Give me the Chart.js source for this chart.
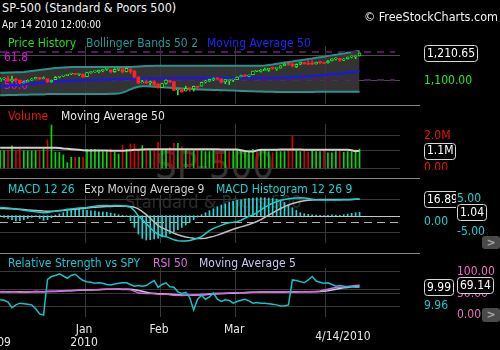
<!DOCTYPE html>
<html>
<head>
<meta charset="utf-8">
<title>SP-500 (Standard & Poors 500)</title>
<script src="https://cdn.jsdelivr.net/npm/chart.js"></script>
<style>
    body {
        margin: 0;
        width: 500px;
        height: 350px;
        background: #000;
        position: relative;
        overflow: hidden;
        font-family: "DejaVu Sans Condensed", "DejaVu Sans", sans-serif;
    }
    .t { position: absolute; white-space: nowrap; line-height: 1; }
    .lg { font-size: 12px; }
    canvas { position: absolute; left: 0; }
    .sep { position: absolute; left: 0; width: 420px; height: 1px; background: #858585; }
    .mark { position: absolute; left: 0; width: 500px; overflow: hidden; }
    .btn {
        position: absolute; left: 482px; width: 18px; border-radius: 3px;
        background: #4a4a4a; color: #a8a8a8; font: bold 11px "DejaVu Sans", sans-serif;
        text-align: center;
    }
</style>
</head>
<body>
    <!-- watermark -->
    <div class="mark" style="top:106px;height:72px">
        <div class="t" style="left:155px;top:40px;font-size:38px;color:#333">SP-500</div>
    </div>
    <div class="t" style="left:125px;top:193px;font-size:18px;color:#2c2c2c">Standard &amp; Poors 500</div>

    <canvas id="priceChart" width="500" height="68" style="top:36px"></canvas>
    <canvas id="volumeChart" width="500" height="56" style="top:114px"></canvas>
    <canvas id="macdChart" width="500" height="58" style="top:185px"></canvas>
    <canvas id="rsiChart" width="500" height="92" style="top:258px"></canvas>

    <div class="sep" style="top:105px"></div>
    <div class="sep" style="top:178px"></div>
    <div class="sep" style="top:253px"></div>

    <!-- header -->
    <div class="t" style="left:2px;top:2px;font-size:12.5px;color:#f2f2f2">SP-500 (Standard &amp; Poors 500)</div>
    <div class="t" style="left:2px;top:20px;font-size:10px;color:#f2f2f2">Apr 14 2010 12:00:00</div>
    <div class="t" style="right:2px;top:11px;font-size:12.5px;color:#f2f2f2">© FreeStockCharts.com</div>

    <!-- legends -->
    <div class="t lg" style="left:8px;top:37px;color:#22dd22">Price History</div>
    <div class="t lg" style="left:86px;top:37px;color:#1f9a9a">Bollinger Bands 50 2</div>
    <div class="t lg" style="left:207px;top:37px;color:#2222ff">Moving Average 50</div>

    <div class="t lg" style="left:8px;top:110px;color:#ee1111">Volume</div>
    <div class="t lg" style="left:61px;top:110px;color:#e8e8e8">Moving Average 50</div>

    <div class="t lg" style="left:8px;top:183px;color:#19d3d3">MACD 12 26</div>
    <div class="t lg" style="left:84px;top:183px;color:#d0d0d0">Exp Moving Average 9</div>
    <div class="t lg" style="left:216px;top:183px;color:#19d3d3">MACD Histogram 12 26 9</div>

    <div class="t lg" style="left:8px;top:257px;color:#19c8d0">Relative Strength vs SPY</div>
    <div class="t lg" style="left:153px;top:257px;color:#e070e0">RSI 50</div>
    <div class="t lg" style="left:199px;top:257px;color:#c8c8f0">Moving Average 5</div>

    <div class="btn" style="top:236px;height:13px;line-height:13px">&gt;</div>
    <div class="btn" style="top:308px;height:14px;line-height:14px">&gt;</div>

<script>
// daily bars, 1 Dec 2009 .. 14 Apr 2010
const opens = [
    1098.9, 1108.5, 1109.0, 1100.0, 1105.5, 1103.0, 1092.0, 1096.0, 1103.0, 1107.8, 1114.0, 1108.6, 1108.0, 1097.0, 1105.3, 1114.5, 1118.8, 1121.1, 1127.5, 1128.6, 1125.5, 1126.6,
    1116.6, 1132.7, 1135.7, 1136.3, 1140.5, 1146.0, 1143.8, 1137.1, 1145.7, 1147.7, 1136.0, 1147.3, 1138.7, 1115.5, 1092.4, 1095.8, 1091.9, 1096.9, 1087.6,
    1073.9, 1090.1, 1100.7, 1097.3, 1064.1, 1065.5, 1060.1, 1069.7, 1068.1, 1075.9, 1079.3, 1096.1, 1099.0, 1105.5, 1110.0, 1107.5, 1095.9, 1101.2, 1103.1,
    1105.4, 1117.0, 1119.4, 1119.1, 1125.1, 1138.4, 1137.6, 1140.2, 1143.0, 1151.7, 1148.5, 1150.8, 1160.1, 1166.1, 1166.7, 1155.4, 1166.5, 1172.5, 1170.0, 1167.6, 1167.7, 1173.8, 1171.8,
    1171.3, 1178.7, 1186.0, 1188.2, 1181.8, 1187.3, 1194.9, 1195.9, 1198.7
];
const highs = [
    1112.3, 1112.3, 1119.1, 1119.1, 1110.7, 1103.3, 1098.5, 1104.3, 1110.4, 1115.2, 1114.4, 1116.2, 1108.0, 1103.7, 1117.7, 1118.5, 1122.1, 1126.5, 1130.4, 1130.4, 1127.5, 1127.6,
    1133.9, 1136.6, 1139.2, 1142.5, 1145.4, 1149.7, 1143.8, 1148.4, 1148.5, 1147.8, 1150.5, 1147.4, 1141.6, 1115.5, 1102.7, 1103.7, 1099.6, 1100.2, 1089.4,
    1089.4, 1104.7, 1102.7, 1097.3, 1067.1, 1071.2, 1079.3, 1073.3, 1080.0, 1077.8, 1095.0, 1101.9, 1107.4, 1112.4, 1112.4, 1108.6, 1106.4, 1103.5, 1107.2,
    1116.1, 1123.5, 1125.6, 1123.7, 1139.4, 1141.1, 1145.4, 1150.7, 1150.2, 1153.4, 1150.8, 1160.3, 1169.2, 1167.1, 1169.2, 1167.8, 1174.7, 1173.0, 1180.7, 1180.8, 1174.9, 1174.9, 1174.1,
    1181.4, 1187.7, 1191.8, 1189.6, 1188.9, 1194.7, 1199.2, 1199.9, 1210.7
];
const lows = [
    1098.9, 1103.6, 1099.1, 1096.4, 1100.8, 1088.6, 1091.3, 1096.0, 1101.4, 1107.8, 1105.3, 1107.8, 1093.5, 1093.9, 1105.3, 1111.8, 1116.8, 1121.1, 1124.9, 1126.0, 1121.2, 1114.8,
    1116.6, 1129.7, 1133.9, 1131.3, 1136.2, 1142.0, 1131.4, 1133.6, 1140.1, 1131.4, 1135.9, 1129.3, 1111.2, 1090.2, 1092.4, 1089.2, 1083.1, 1078.5, 1071.5,
    1073.9, 1087.0, 1093.0, 1062.8, 1044.5, 1056.5, 1060.1, 1059.3, 1060.1, 1070.6, 1079.3, 1091.8, 1097.6, 1100.8, 1105.1, 1092.2, 1089.0, 1086.0, 1097.6,
    1105.4, 1116.0, 1116.6, 1116.1, 1125.1, 1136.8, 1134.9, 1140.2, 1138.2, 1146.0, 1141.8, 1150.8, 1159.9, 1161.4, 1155.3, 1152.9, 1163.8, 1166.0, 1165.1, 1165.2, 1165.8, 1167.4, 1169.0,
    1170.7, 1178.7, 1182.8, 1177.2, 1179.9, 1186.4, 1191.3, 1187.9, 1198.7
];
const closes = [
    1108.86, 1109.24, 1099.92, 1105.98, 1103.25, 1091.94, 1095.95, 1102.35, 1106.41, 1114.11, 1107.93, 1109.18, 1096.08, 1102.47, 1114.05, 1118.02, 1120.59, 1126.48, 1127.78, 1126.20, 1126.42, 1115.10,
    1132.99, 1136.52, 1137.14, 1141.69, 1144.98, 1146.98, 1136.22, 1145.68, 1148.46, 1136.03, 1150.23, 1138.04, 1116.48, 1091.76, 1096.78, 1092.17, 1097.50, 1084.53, 1073.87,
    1089.19, 1103.32, 1097.28, 1063.11, 1066.19, 1056.74, 1070.52, 1068.13, 1078.47, 1075.51, 1094.87, 1099.51, 1106.75, 1109.17, 1108.01, 1094.60, 1105.24, 1102.94, 1104.49,
    1115.71, 1118.31, 1118.79, 1122.97, 1138.70, 1138.50, 1140.45, 1145.61, 1150.24, 1149.99, 1150.51, 1159.46, 1166.21, 1165.83, 1159.90, 1165.81, 1174.17, 1167.72, 1165.73, 1166.59, 1173.22, 1173.27, 1169.43,
    1178.10, 1187.44, 1189.44, 1182.45, 1186.44, 1194.37, 1196.48, 1197.30, 1210.65
];
const bbUpper = [
    1132, 1132, 1133, 1133, 1134, 1134, 1135,
    1137, 1139, 1141, 1143, 1145, 1147, 1149, 1151, 1152, 1153, 1154,
    1155, 1155, 1155, 1155, 1155, 1155, 1155, 1155, 1155, 1155, 1155, 1155, 1155, 1155, 1155, 1155,
    1156, 1157, 1158, 1159, 1159, 1160, 1160, 1160, 1160, 1160, 1160, 1160, 1160, 1160, 1160, 1160, 1160,
    1160, 1160, 1160, 1160, 1160, 1160, 1160, 1160, 1160, 1160, 1160, 1160, 1160, 1160, 1160, 1160,
    1161, 1163, 1165, 1168, 1170, 1173, 1175, 1177, 1180, 1182, 1184, 1187, 1189, 1192, 1194, 1196,
    1199, 1201, 1203, 1206, 1208, 1211, 1213, 1216, 1218
];
const bbLower = [
    1044, 1044, 1045, 1045, 1045, 1046, 1046, 1046, 1047, 1047, 1047, 1047, 1048, 1048, 1048, 1048,
    1048, 1048, 1048, 1048, 1048, 1048, 1048, 1048, 1048, 1048, 1048, 1048, 1049, 1049, 1050,
    1054, 1060, 1067, 1073, 1077, 1079,
    1079, 1078, 1077, 1076, 1075, 1074, 1073, 1072, 1071, 1070, 1069, 1068, 1067, 1066, 1066, 1065,
    1065, 1064, 1064, 1063, 1063, 1062, 1062, 1061,
    1060, 1060, 1059, 1059, 1058, 1058, 1057, 1057, 1057, 1056, 1056, 1056, 1056, 1056, 1056, 1056,
    1056, 1056, 1056, 1057, 1057, 1057, 1057, 1057, 1057, 1057, 1057, 1057, 1057, 1057, 1057
];
const ma50 = [
    1079, 1080, 1081, 1083, 1084, 1085, 1087, 1088, 1089, 1091, 1092, 1093, 1095, 1096, 1097, 1099,
    1100, 1100, 1101, 1102, 1102, 1103, 1103, 1104, 1104, 1105, 1105, 1106, 1106, 1107, 1107, 1108, 1108, 1108, 1109,
    1109, 1109, 1110, 1110, 1110, 1110, 1111, 1111, 1111, 1111, 1111, 1111,
    1112, 1112, 1112, 1112, 1112, 1112, 1112, 1112, 1112, 1112, 1112, 1112,
    1112, 1112, 1112, 1112, 1112, 1112, 1112, 1112, 1112, 1112, 1112, 1112,
    1113, 1113, 1114, 1115, 1116, 1117,
    1118, 1119, 1120, 1121, 1122, 1124, 1125, 1126, 1127, 1129, 1130, 1132, 1134, 1136, 1138
];
const fibLevels = [1214.6, 1103.9];
const fibNames = ['61.8', '50.0'];

// volume, millions
const volume = [
    1.10, 1.09, 1.13, 1.38, 1.13, 1.19, 1.09, 1.07, 1.07, 1.09, 1.13, 1.19, 1.75, 2.67, 0.99, 0.99, 0.82, 0.35, 0.68, 0.68, 0.68, 0.68,
    1.17, 1.17, 1.17, 1.13, 1.03, 1.09, 1.19, 0.99, 0.88, 1.44, 1.17, 1.50, 1.50, 1.13, 1.40, 1.13, 1.13, 1.19, 1.60,
    1.17, 1.19, 1.29, 1.54, 1.54, 1.34, 1.19, 1.03, 1.09, 1.17, 1.09, 1.03, 1.03, 1.13, 1.03, 1.03, 1.09, 1.03, 1.09,
    1.13, 1.13, 1.07, 1.03, 1.17, 0.99, 1.13, 1.13, 1.03, 0.96, 1.03, 1.03, 1.03, 1.17, 1.99, 1.13, 1.03, 1.09, 0.99, 1.09, 1.03, 1.03, 1.13,
    0.96, 0.96, 1.03, 1.13, 0.99, 1.03, 1.03, 1.13, 1.19
];
const volumeMA = [
    1.27, 1.27, 1.27, 1.27, 1.27, 1.27, 1.27, 1.27, 1.27, 1.27, 1.27, 1.27, 1.27, 1.27, 1.27,
    1.25, 1.22, 1.20, 1.18, 1.16,
    1.14, 1.12, 1.10, 1.10, 1.10, 1.10, 1.10, 1.10,
    1.09, 1.09, 1.09, 1.09, 1.10, 1.12, 1.14, 1.15, 1.16, 1.17, 1.17,
    1.17, 1.17, 1.18, 1.18, 1.18, 1.18, 1.18, 1.18, 1.17, 1.17, 1.17, 1.17, 1.17, 1.17, 1.17, 1.17, 1.17, 1.16, 1.16, 1.16, 1.16, 1.16,
    1.12, 1.07, 1.04, 1.04,
    1.10, 1.15, 1.15, 1.15, 1.15, 1.15, 1.16, 1.16, 1.16, 1.16, 1.16, 1.16, 1.15, 1.15, 1.15, 1.15, 1.15, 1.15, 1.15, 1.15, 1.15, 1.14, 1.14, 1.14,
    1.12, 1.06, 1.08
];

// MACD 12 26 9
const macd = [
    10.8, 10.6, 10.3, 10.0, 9.6, 9.2, 8.8, 8.4, 8.0, 7.6, 7.3,
    7.0, 7.2, 7.6, 8.0, 8.5, 8.9, 9.4,
    9.7, 10.0, 10.3, 10.6, 10.8,
    11.2, 11.6, 12.0, 12.1, 12.1, 12.0, 12.1, 12.2, 12.0, 11.6,
    11.0, 8.5, 4.5, 2.0, -1.0, -4.0, -6.8, -8.8, -9.8, -10.4, -11.5, -12.6, -13.4, -13.6, -13.6, -13.2, -12.4, -11.6,
    -10.4, -8.2, -6.0, -4.4, -3.3, -2.2, -1.0, -0.4, 0.0, 0.5, 1.5, 3.0, 4.3, 5.3, 7.0, 9.0, 10.8, 12.5, 13.8, 15.0, 16.0, 16.6, 17.1, 17.4, 17.7, 17.8,
    17.6, 17.2, 16.8, 16.4, 16.2, 16.1, 16.1, 16.2, 16.2, 16.2, 16.3, 16.4, 16.6, 16.8, 16.89
];
const macdSignal = [
    10.1, 10.0, 9.9, 9.8, 9.6, 9.4, 9.2, 9.0, 8.8, 8.6, 8.4, 8.2,
    8.1, 8.1, 8.2, 8.4, 8.6, 8.9, 9.2, 9.5, 9.8, 10.1, 10.4,
    10.7, 10.9, 11.1, 11.3, 11.4, 11.5, 11.6, 11.6, 11.6, 11.6,
    11.5, 11.0, 9.8, 7.8, 5.6, 3.0, 0.2, -2.4, -4.0, -5.3, -6.6, -7.9, -9.0, -9.9, -10.6, -11.1, -11.5, -11.7,
    -11.7, -11.5, -10.9, -10.2, -9.3, -8.3, -7.2, -6.1, -5.0, -4.1, -3.3, -2.5, -1.6, -0.6, 0.6, 2.0, 3.6, 5.2, 6.9, 8.5, 10.0, 11.4, 12.6, 13.6, 14.4, 15.1,
    15.6, 16.0, 16.2, 16.4, 16.5, 16.5, 16.5, 16.5, 16.5, 16.5, 16.5, 16.6, 16.6, 16.7, 16.8
];
const macdHist = [
    -0.3, -0.5, -0.8, -1.2, -1.6, -1.5, -1.2, -0.8, -0.5, -0.3, -0.8, -1.4, -1.2, -0.6,
    0.2, 0.5, 0.9, 1.3, 1.6, 1.8, 1.9, 1.8, 1.6, 1.5, 1.4, 1.2, 1.1, 1.0, 0.8, 0.6, 0.3,
    0.1, -0.3, -1.5,
    -3.5, -5.5, -6.8, -7.3, -7.2, -7.0, -6.8,
    -6.4, -6.0, -5.4, -4.8, -4.2, -3.5, -2.8, -2.0, -1.2,
    -0.4, 0.3, 0.9, 1.5, 2.1, 2.7, 3.2, 3.6, 4.0, 4.3, 4.6, 4.8, 5.0, 5.2, 5.3,
    5.4, 5.4, 5.4, 5.3, 5.2, 5.0, 4.6, 4.0, 3.2, 2.4, 1.6, 0.9,
    0.6, 0.4, 0.3, 0.2, 0.1, 0.0, 0.1, 0.3, 0.2, 0.1, 0.3, 0.5, 0.7, 0.9, 1.04
];

// relative strength vs SPY, RSI 50 and its 5 day average
const relStrength = [
    9.971, 9.970, 9.967, 9.957, 9.962, 9.965, 9.964, 9.963, 9.962, 9.955,
    9.946, 9.944, 10.007, 10.012, 10.014, 10.017, 10.013, 10.009, 10.014, 10.016,
    10.010, 10.005, 10.003, 10.002, 10.000, 10.001, 10.000, 9.998, 9.997, 9.999,
    10.000, 10.001, 10.001, 9.998, 9.995, 9.996, 9.995, 9.996, 10.001, 10.005,
    9.993, 9.998, 10.001, 9.994, 9.993, 9.985, 9.982, 9.984, 9.975, 9.953,
    9.972, 9.979, 9.972, 9.976, 9.983, 9.972, 9.968, 9.971, 9.970, 9.965,
    9.968, 9.970, 9.972, 9.969, 9.965, 9.966, 9.965, 9.965, 9.964, 9.963,
    9.962, 9.960, 9.960, 9.962, 10.006, 10.005, 10.003, 10.001, 10.006, 10.012,
    10.004, 10.002, 10.000, 10.001, 9.998, 9.995, 9.996, 9.995, 9.994, 9.994,
    9.993, 9.993
];
const rsi50 = [
    54, 54.5, 53.5, 54, 54, 53, 53.5, 54, 54, 55, 54.5,
    54, 54.5, 55, 55.5, 56, 56.5, 57, 57, 57.5, 58, 58, 58.5, 59, 59, 59.5, 60, 60, 60, 60.5, 60,
    59.5, 60, 58.5, 55.5, 51, 50.5, 50, 50.5, 49.5, 48,
    48, 49, 47, 46, 46, 45.5, 46, 46, 47, 46.5, 48, 48.5,
    49.5, 50, 50.5, 50, 50.5, 51, 51.5, 52, 52, 52.5, 53, 53, 53, 53.5, 53.5, 53.5, 53.5, 53.5, 54, 54, 54, 53.5, 53.5, 54, 54, 54, 54.5, 55,
    56, 58, 60, 62, 64, 64.5, 65, 66.5, 67.5, 68.5, 69.14
];
const rsiMA5 = [
    54, 54, 54, 54, 54, 53.8, 53.7, 53.7, 53.8, 54.1, 54.2,
    54.3, 54.4, 54.6, 54.9, 55.3, 55.7, 56.2, 56.5, 57, 57.4, 57.7, 58, 58.4, 58.7, 59, 59.4, 59.7, 59.9, 60.1, 60.2,
    60.1, 60, 59.7, 58.8, 56.9, 55.1, 53.1, 51.3, 50.3, 49.7,
    49.2, 48.9, 48.5, 47.8, 47.2, 46.5, 46.1, 45.9, 46.1, 46.4, 46.7, 47.2,
    48, 48.8, 49.5, 50, 50.2, 50.5, 50.8, 51.3, 51.6, 52, 52.4, 52.7, 53, 53.2, 53.3, 53.4, 53.5, 53.5, 53.6, 53.7, 53.8, 53.8, 53.8, 53.8, 53.8, 53.9, 54, 54.3,
    54.7, 55.5, 56.6, 58.2, 60, 61.7, 63.1, 64.2, 65.5, 66.4, 67.3
];

// x axis: month boundaries (in bar index units) and their labels
const monthTicks = [-0.5, 21.5, 40.5, 59.5, 82.5];
const monthNames = ['', 'Jan', 'Feb', 'Mar', ''];
const yearNames = ['2009', '2010', '', '', ''];
const lastDate = '4/14/2010';

// y ticks per panel
const priceGrid = [1100, 1200];
const priceTicks = [1100];
const priceTickLabels = ['1,100.00'];
const volTicks = [2.0, 0];
const volTickLabels = ['2.0M', '0.00'];
const macdTicks = [0];
const macdTickLabels = ['0.00'];
const histTicks = [5, -5];
const histTickLabels = ['5.00', '-5.00'];
const rsTicks = [9.99, 9.96];
const rsTickLabels = ['', '9.96'];
const rsiTicks = [100, 50, 0];
const rsiTickLabels = ['100.00', '50.00', '0.00'];

const X_MIN = -0.03, X_MAX = 101.24;
const GREEN = '#22ee22', RED = '#ff2222';
const FONT = '12px "DejaVu Sans Condensed", "DejaVu Sans", sans-serif';
const last = a => a[a.length - 1];
const xy = a => a.map((v, i) => ({x: i, y: v}));

function xScale() {
    return {
        type: 'linear', min: X_MIN, max: X_MAX, offset: false,
        ticks: {display: false}, border: {display: false},
        grid: {color: '#383838', drawTicks: false, offset: false},
        afterBuildTicks: s => { s.ticks = monthTicks.map(v => ({value: v})); }
    };
}
function yScale(min, max, width, grid, color) {
    return {
        type: 'linear', axis: 'y', position: 'right', min: min, max: max,
        ticks: {display: false}, border: {display: false},
        grid: {color: color || '#383838', drawTicks: false, display: grid.length > 0},
        afterBuildTicks: s => { s.ticks = (grid.length ? grid : [min]).map(v => ({value: v})); },
        afterFit: s => { s.width = width; }
    };
}
function labelsFor(axis, values, texts, color, dx) {
    return values.map((v, i) => ({axis: axis, value: v, text: texts[i], color: color, dx: dx}));
}

function drawBox(ctx, x, y, text, clipRight) {
    ctx.save();
    ctx.font = FONT;
    if (clipRight) { ctx.beginPath(); ctx.rect(0, 0, clipRight, ctx.canvas.height); ctx.clip(); }
    const w = Math.round(ctx.measureText(text).width + 5), h = 16;
    const top = Math.round(y - h / 2) + 0.5;
    ctx.beginPath();
    ctx.roundRect(x + 0.5, top, w, h, 3);
    ctx.fillStyle = '#000'; ctx.fill();
    ctx.strokeStyle = '#d8d8d8'; ctx.lineWidth = 1; ctx.stroke();
    ctx.fillStyle = '#fff'; ctx.textBaseline = 'middle'; ctx.textAlign = 'left';
    ctx.fillText(text, x + 3, y + 0.5);
    ctx.restore();
}
function drawLevels(chart, levels) {
    const {ctx, chartArea: a} = chart;
    levels.forEach(l => {
        const y = Math.round(chart.scales[l.axis].getPixelForValue(l.value)) + (l.width % 2 ? 0.5 : 0);
        ctx.save();
        ctx.strokeStyle = l.color; ctx.lineWidth = l.width; ctx.setLineDash(l.dash || []);
        ctx.beginPath(); ctx.moveTo(a.left, y); ctx.lineTo(a.right - (l.inset || 0), y); ctx.stroke();
        if (l.text) {
            ctx.font = FONT; ctx.fillStyle = l.textColor; ctx.textBaseline = 'middle';
            ctx.fillText(l.text, a.left + 4, y + 6);
        }
        ctx.restore();
    });
}
function panelExtras(cfg) {
    return {
        id: 'panelExtras',
        beforeDatasetsDraw(chart) { if (cfg.levelsAfter === undefined) drawLevels(chart, cfg.levels || []); },
        afterDatasetDraw(chart, args) { if (args.index === cfg.levelsAfter) drawLevels(chart, cfg.levels || []); },
        afterDraw(chart) {
            const ctx = chart.ctx;
            ctx.save();
            ctx.font = FONT; ctx.textBaseline = 'middle'; ctx.textAlign = 'left';
            (cfg.labels || []).forEach(l => {
                const s = chart.scales[l.axis];
                ctx.fillStyle = l.color;
                ctx.fillText(l.text, s.left + l.dx, s.getPixelForValue(l.value));
            });
            ctx.restore();
            (cfg.boxes || []).forEach(b => {
                const s = chart.scales[b.axis];
                drawBox(ctx, s.left + b.dx, s.getPixelForValue(b.value), b.text, b.clip ? s.right - 1 : null);
            });
            if (cfg.xLabels) {
                const a = chart.chartArea, sx = chart.scales.x;
                ctx.save();
                ctx.font = FONT; ctx.fillStyle = '#e8e8e8'; ctx.textBaseline = 'middle'; ctx.textAlign = 'center';
                monthTicks.forEach((t, i) => {
                    const x = sx.getPixelForValue(t) - 1;
                    ctx.fillText(monthNames[i], x, a.bottom + 13);
                    ctx.fillText(yearNames[i], x, a.bottom + 26);
                });
                ctx.textAlign = 'right';
                ctx.fillText(lastDate, sx.getPixelForValue(closes.length - 1) + 11, a.bottom + 20);
                ctx.restore();
            }
        }
    };
}
function baseOptions(scales, padBottom) {
    return {
        responsive: false, animation: false, events: [],
        layout: {padding: {top: 10, bottom: padBottom || 0, left: 0, right: 0}},
        plugins: {legend: {display: false}, tooltip: {enabled: false}},
        scales: scales
    };
}
const lineSet = (data, axis, color, width, order) => ({
    type: 'line', data: xy(data), yAxisID: axis, borderColor: color, borderWidth: width,
    pointRadius: 0, tension: 0, fill: false, order: order
});
const isUp = i => closes[i] >= opens[i];

window.onload = () => {
    Chart.defaults.font.family = '"DejaVu Sans Condensed", "DejaVu Sans", sans-serif';

    // price panel
    new Chart(document.getElementById('priceChart'), {
        type: 'bar',
        data: {datasets: [
            Object.assign(lineSet(bbUpper, 'y', '#2c9090', 2, 10), {fill: '+1', backgroundColor: 'rgba(58,58,58,0.88)'}),
            lineSet(bbLower, 'y', '#2c9090', 2, 9),
            lineSet(ma50, 'y', '#1414ff', 2, 5),
            {
                data: closes.map((c, i) => ({x: i, y: [lows[i], highs[i]]})), yAxisID: 'y',
                barThickness: 1, grouped: false, order: 3,
                backgroundColor: c => isUp(c.raw.x) ? GREEN : RED
            },
            {
                data: closes.map((c, i) => ({x: i, y: [opens[i], c]})).filter(d => isUp(d.x)), yAxisID: 'y',
                barThickness: 3, grouped: false, order: 2, minBarLength: 1,
                backgroundColor: '#000', borderColor: GREEN, borderWidth: 1, borderSkipped: false
            },
            {
                data: closes.map((c, i) => ({x: i, y: [opens[i], c]})).filter(d => !isUp(d.x)), yAxisID: 'y',
                barThickness: 3, grouped: false, order: 1, minBarLength: 1,
                backgroundColor: RED, borderWidth: 0
            }
        ]},
        options: baseOptions({x: xScale(), y: yScale(1009, 1238, 100, priceGrid, '#4a4a4a')}),
        plugins: [panelExtras({
            levelsAfter: 1,
            levels: fibLevels.map((v, i) => ({axis: 'y', value: v, color: '#521a58', width: 2, dash: [7, 6], inset: 5,
                text: fibNames[i], textColor: '#e010e0'})),
            labels: labelsFor('y', priceTicks, priceTickLabels, '#22ee22', 24),
            boxes: [{axis: 'y', value: last(closes), text: last(closes).toLocaleString('en-US', {minimumFractionDigits: 2}), dx: 24}]
        })]
    });

    // volume panel
    new Chart(document.getElementById('volumeChart'), {
        type: 'bar',
        data: {datasets: [
            lineSet(volumeMA, 'y', '#d0d0d0', 2, 1),
            {
                data: xy(volume), yAxisID: 'y', barThickness: 1, grouped: false, order: 2,
                backgroundColor: c => (c.dataIndex === 0 || closes[c.dataIndex] >= closes[c.dataIndex - 1]) ? '#00dd00' : '#dd0000'
            }
        ]},
        options: baseOptions({x: xScale(), y: yScale(-0.105, 2.735, 100, [2.0, last(volumeMA), 0])}),
        plugins: [panelExtras({
            labels: labelsFor('y', volTicks, volTickLabels, '#ee1111', 24),
            boxes: [{axis: 'y', value: last(volumeMA), text: last(volumeMA).toFixed(1) + 'M', dx: 24}]
        })]
    });

    // MACD panel
    new Chart(document.getElementById('macdChart'), {
        type: 'bar',
        data: {datasets: [
            lineSet(macdSignal, 'yMacd', '#c0c0c0', 1.5, 2),
            lineSet(macd, 'yMacd', '#18d0d0', 1.5, 1),
            {data: xy(macdHist), yAxisID: 'yHist', barThickness: 1, grouped: false, order: 3, backgroundColor: '#20d8d8'}
        ]},
        options: baseOptions({
            x: xScale(),
            yMacd: yScale(-15.0, 19.8, 57, []),
            yHist: yScale(-8.2, 6.22, 43, histTicks)
        }),
        plugins: [panelExtras({
            levels: [
                {axis: 'yHist', value: 0, color: '#c4c4c4', width: 1},
                {axis: 'yMacd', value: 0, color: '#b0b0b0', width: 1, dash: [8, 5]}
            ],
            labels: labelsFor('yMacd', macdTicks, macdTickLabels, '#19d3d3', 24)
                .concat(labelsFor('yHist', histTicks, histTickLabels, '#19d3d3', 0)),
            boxes: [
                {axis: 'yMacd', value: last(macd), text: last(macd).toFixed(2), dx: 24, clip: true},
                {axis: 'yHist', value: last(macdHist), text: last(macdHist).toFixed(2), dx: 0}
            ]
        })]
    });

    // relative strength / RSI panel
    new Chart(document.getElementById('rsiChart'), {
        type: 'line',
        data: {datasets: [
            lineSet(rsiMA5, 'yRsi', '#c8c8f0', 1.5, 3),
            lineSet(rsi50, 'yRsi', '#d868d8', 1.5, 2),
            lineSet(relStrength, 'yRs', '#10c4cc', 1.5, 1)
        ]},
        options: baseOptions({
            x: xScale(),
            yRs: yScale(9.9406, 10.0271, 57, rsTicks),
            yRsi: yScale(-4.65, 109.3, 43, [100, 50])
        }, 33),
        plugins: [panelExtras({
            labels: labelsFor('yRs', rsTicks, rsTickLabels, '#19c8d0', 24)
                .concat(labelsFor('yRsi', rsiTicks, rsiTickLabels, '#f070c0', 0)),
            boxes: [
                {axis: 'yRs', value: last(relStrength), text: last(relStrength).toFixed(2), dx: 24, clip: true},
                {axis: 'yRsi', value: last(rsi50), text: last(rsi50).toFixed(2), dx: 0}
            ],
            xLabels: true
        })]
    });
};
</script>
</body>
</html>
